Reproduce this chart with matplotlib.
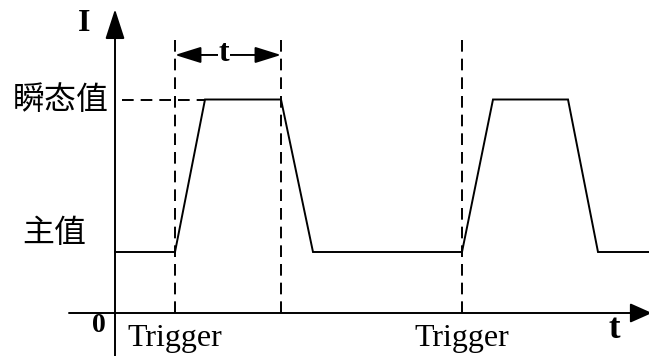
import matplotlib
matplotlib.use("Agg")
import matplotlib.pyplot as plt

# ---- data (schematic units) ----
time_points = [0.0, 6.0, 9.0, 16.6, 19.8, 34.7, 37.8, 45.3, 48.3, 53.4]
current_values = [1.0, 1.0, 3.5, 3.5, 1.0, 1.0, 3.5, 3.5, 1.0, 1.0]
trigger_times = [6.0, 34.7]
pulse_end_time = 16.6
main_value = 1.0
transient_value = 3.5
trigger_labels = ["Trigger", "Trigger"]
level_labels = ["主值", "瞬态值"]

SERIF = ["Liberation Serif", "DejaVu Serif"]
CJK = ["Noto Sans CJK SC", "DejaVu Sans"]

fig = plt.figure(figsize=(6.49, 3.56), dpi=100)
ax = fig.add_axes([0, 0, 1, 1])
ax.set_xlim(-11.5, 53.4)
ax.set_ylim(-43 / 61, 313 / 61)
ax.axis("off")

lw = 1.4
dash = (0, (6, 3.6))

# waveform
ax.plot(time_points, current_values, color="black", lw=lw, solid_joinstyle="miter")

# vertical dashed lines at triggers and pulse end
top = 4.475
for tx in [trigger_times[0], pulse_end_time, trigger_times[1]]:
    ax.plot([tx, tx], [0, top], color="black", lw=lw, linestyle=dash)

# horizontal dashed line to transient level
ax.plot([0.7, time_points[2]], [transient_value, transient_value],
        color="black", lw=lw, linestyle=dash)

# axes arrows
ax.annotate("", xy=(0, 4.98), xytext=(0, -0.75), annotation_clip=False,
            arrowprops=dict(arrowstyle="-|>,head_length=1.85,head_width=0.6",
                            mutation_scale=10, lw=lw, color="black",
                            shrinkA=0, shrinkB=0))
ax.annotate("", xy=(53.7, 0), xytext=(-4.6, 0), annotation_clip=False,
            arrowprops=dict(arrowstyle="-|>,head_length=1.35,head_width=0.6",
                            mutation_scale=10, lw=lw, color="black",
                            shrinkA=0, shrinkB=0))

# duration arrow "t"
ax.annotate("", xy=(pulse_end_time, 4.23), xytext=(trigger_times[0], 4.23),
            annotation_clip=False,
            arrowprops=dict(arrowstyle="<|-|>,head_length=1.6,head_width=0.5",
                            mutation_scale=10, lw=lw, color="black",
                            shrinkA=0, shrinkB=0))
ax.text(10.9, 4.25, "t", family=SERIF, fontsize=23, fontweight="bold",
        ha="center", va="center",
        bbox=dict(facecolor="white", edgecolor="none", pad=0.5))

# axis labels
ax.text(-3.1, 4.74, "I", family=SERIF, fontsize=23, fontweight="bold",
        ha="center", va="center")
ax.text(-1.6, -0.21, "0", family=SERIF, fontsize=20, fontweight="bold",
        ha="center", va="center")
ax.text(49.9, -0.27, "t", family=SERIF, fontsize=25, fontweight="bold",
        ha="center", va="center")

# level labels
ax.text(-0.6, transient_value, level_labels[1], family=CJK, fontsize=23,
        ha="right", va="center")
ax.text(-2.9, 1.31, level_labels[0], family=CJK, fontsize=23,
        ha="right", va="center")

# trigger labels
for tx, lab in zip(trigger_times, trigger_labels):
    ax.text(tx, -0.42, lab, family=SERIF, fontsize=23, ha="center", va="center")

fig.savefig("out.png", dpi=100)
